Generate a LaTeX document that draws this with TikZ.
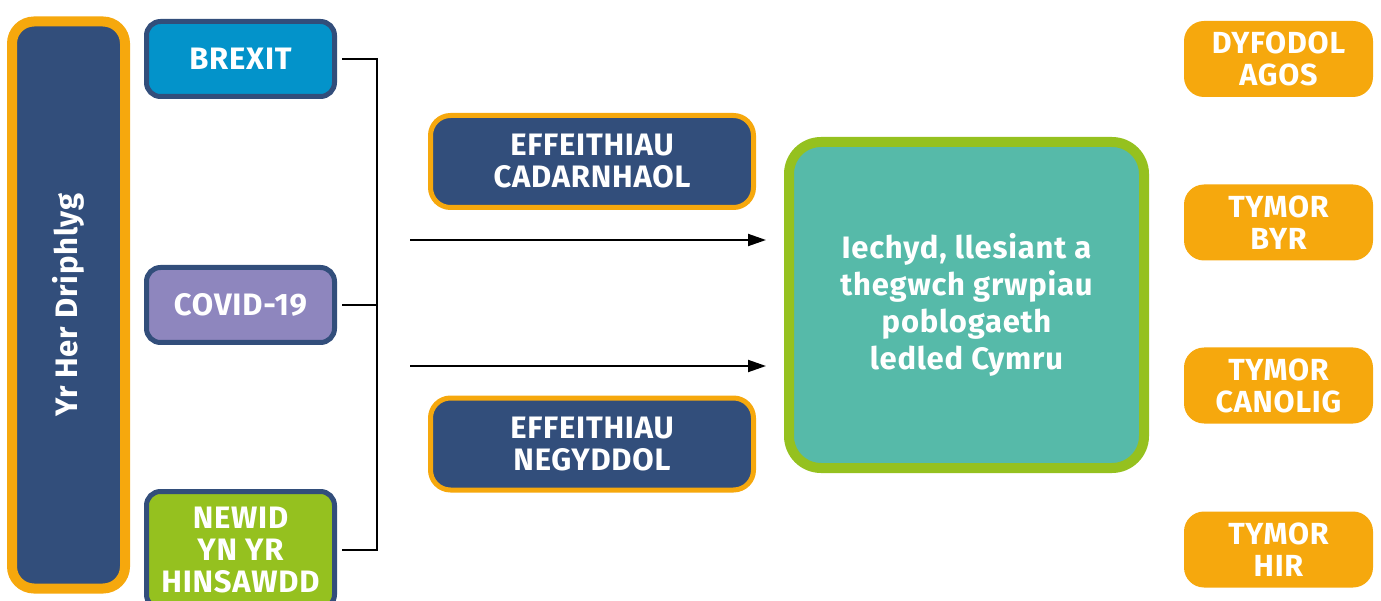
\documentclass[tikz,border=0pt]{standalone}
\usepackage{fontspec}
\setmainfont{Fira Sans}[LetterSpace=2.5]
\usetikzlibrary{arrows.meta}
\definecolor{dblue}{HTML}{324E7B}
\definecolor{orng}{HTML}{F6A80D}
\definecolor{bblue}{HTML}{0393CA}
\definecolor{purp}{HTML}{8E86BE}
\definecolor{lgreen}{HTML}{95C11F}
\definecolor{teal}{HTML}{56BAA9}
\begin{document}
\begin{tikzpicture}[x=1pt,y=-1pt,
  lbl/.style={text=white,align=center,font=\bfseries\fontsize{31}{32}\selectfont},
  cause/.style={lbl,rectangle,rounded corners=14pt,draw=dblue,line width=5pt,minimum width=188pt,inner sep=0pt},
  effect/.style={lbl,rectangle,rounded corners=20pt,draw=orng,line width=5pt,fill=dblue,minimum width=323pt,minimum height=92pt,inner sep=0pt},
  term/.style={lbl,rectangle,rounded corners=20pt,fill=orng,minimum width=189pt,minimum height=76pt,inner sep=0pt,font=\bfseries\fontsize{30.5}{32}\selectfont},
  conn/.style={line width=2pt,black},
  arr/.style={line width=2pt,black,-{Triangle[length=18pt,width=12pt]}}]
\useasboundingbox (0,0) rectangle (1381,601);
\clip (0,0) rectangle (1381,601);
% left tall box
\node[lbl,rectangle,rotate=90,rounded corners=22pt,draw=orng,line width=10pt,fill=dblue,
  minimum width=567pt,minimum height=113pt,inner sep=0pt] (triple) at (68.5,305) {Yr Her Driphlyg};
% causes
\node[cause,fill=bblue,minimum height=75pt] (brexit) at (240.5,59) {BREXIT};
\node[cause,fill=purp,minimum height=75pt] (covid) at (240.5,305) {COVID-19};
\node[cause,fill=lgreen,minimum height=117pt] (newid) at (240.5,550) {NEWID\\YN YR\\HINSAWDD};
% bracket
\coordinate (bend) at (377,300);
\draw[conn,shorten <=5pt,shorten >=5pt] (brexit.east) -| (bend) |- (newid.east);
\draw[conn,shorten <=5pt] (covid.east) -- (covid.east -| bend);
% effects
\node[effect] (pos) at (592,161.5) {EFFEITHIAU\\CADARNHAOL};
\node[effect] (neg) at (592,444) {EFFEITHIAU\\NEGYDDOL};
% arrows
\coordinate (a1s) at (410,240);
\coordinate (a1e) at (766,240);
\coordinate (a2s) at (410,366);
\coordinate (a2e) at (766,366);
\draw[arr] (a1s) -- (a1e);
\draw[arr] (a2s) -- (a2e);
% centre
\node[lbl,rectangle,rounded corners=32pt,draw=lgreen,line width=10pt,fill=teal,
  minimum width=355pt,minimum height=326pt,inner sep=0pt,
  font=\bfseries\fontsize{31}{37}\selectfont] (centre) at (966.5,305) {Iechyd, llesiant a\\thegwch grwpiau\\poblogaeth\\ledled Cymru};
% terms
\node[term] (t1) at (1278.5,59) {DYFODOL\\AGOS};
\node[term] (t2) at (1278.5,222.5) {TYMOR\\BYR};
\node[term] (t3) at (1278.5,385.5) {TYMOR\\CANOLIG};
\node[term] (t4) at (1278.5,549.5) {TYMOR\\HIR};
\end{tikzpicture}
\end{document}
